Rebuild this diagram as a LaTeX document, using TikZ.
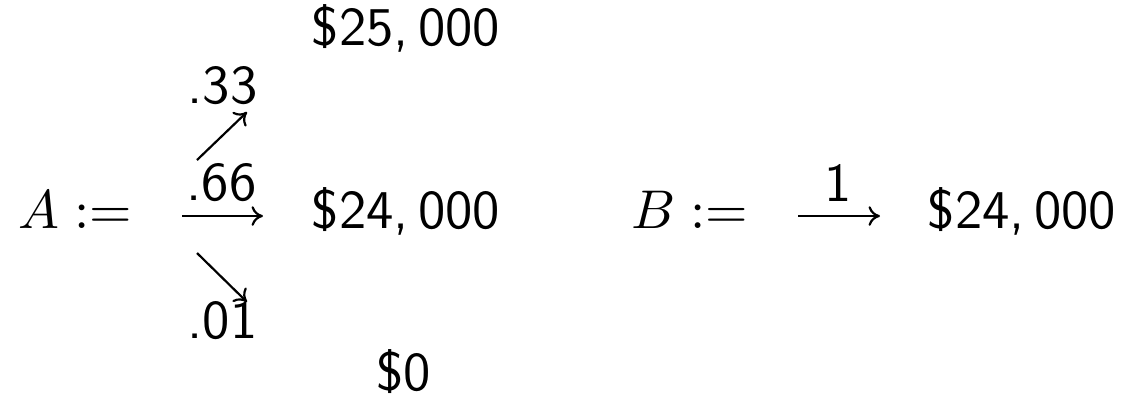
\documentclass[tikz,border=0pt]{standalone}
\usetikzlibrary{arrows.meta}
\begin{document}
\begin{tikzpicture}[x=0.18315pt,y=-0.18315pt,
  txt/.style={inner sep=0pt,outer sep=0pt,anchor=base},
  val/.style={txt,font=\sffamily},
  prob/.style={txt,font=\sffamily},
  arr/.style={line width=0.4pt,-{Computer Modern Rightarrow[length=2.1pt,width=3.6pt]}}]
\useasboundingbox (0,0) rectangle (1126,396);
% left expression
\node[txt] (A) at (75,228) {$A:=$};
\node[val] (v25) at (406,45) {\$25,\,000};
\node[val] (v24a) at (406,228) {\$24,\,000};
\node[val] (v0) at (404,390) {\$0};
\node[prob] (p33) at (222.5,103) {.33};
\node[prob] (p66) at (221.5,200) {.66};
\node[prob] (p01) at (222.5,338) {.01};
\coordinate (ne1) at (197,160); \coordinate (ne2) at (247,112);
\coordinate (e1) at (182,216);  \coordinate (e2) at (263,216);
\coordinate (se1) at (197,253); \coordinate (se2) at (247,302);
\draw[arr] (ne1) -- (ne2);
\draw[arr] (e1) -- (e2);
\draw[arr] (se1) -- (se2);
% right expression
\node[txt] (B) at (690,228) {$B:=$};
\node[prob] (p1) at (838.5,201) {1};
\node[val] (v24b) at (1022,228) {\$24,\,000};
\coordinate (b1) at (798,216); \coordinate (b2) at (880,216);
\draw[arr] (b1) -- (b2);
\end{tikzpicture}
\end{document}
